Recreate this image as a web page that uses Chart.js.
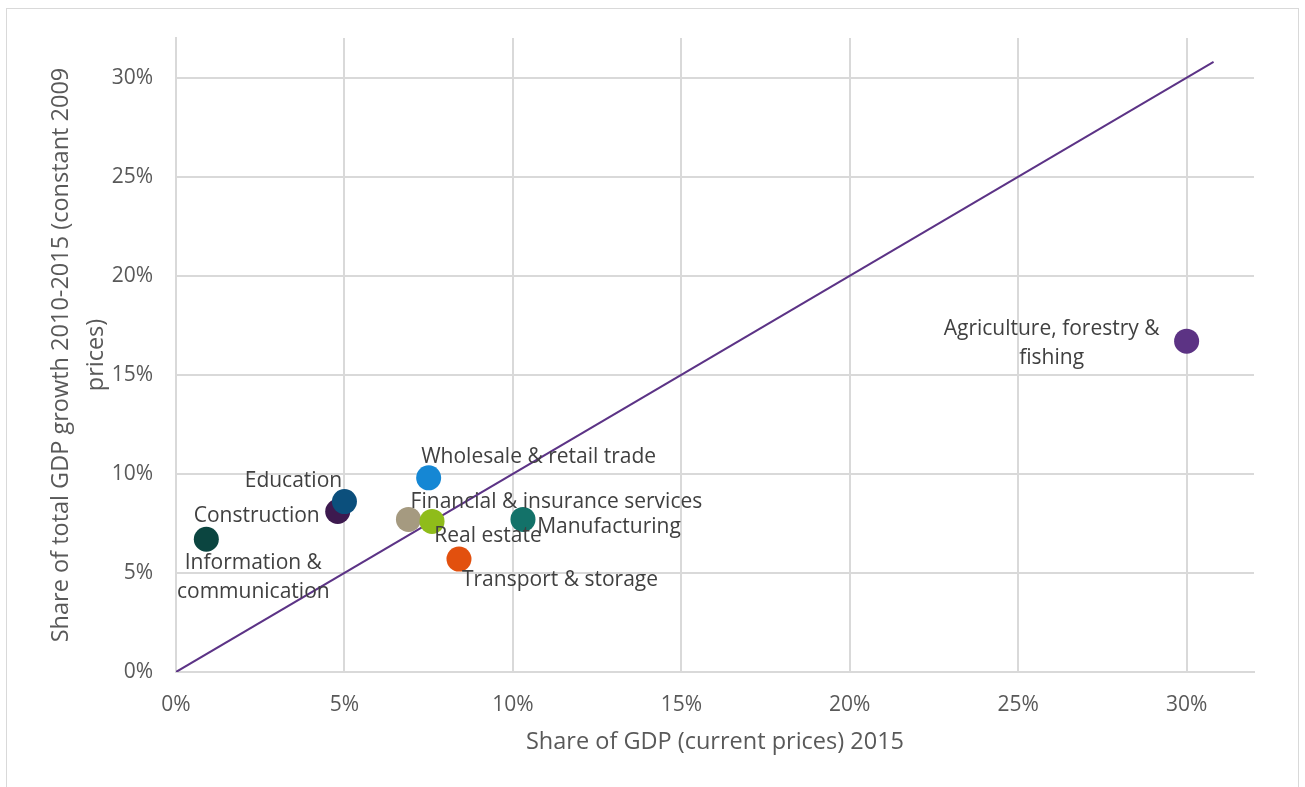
<!DOCTYPE html>
<html>
<head>
<meta charset="utf-8">
<script src="https://cdn.jsdelivr.net/npm/chart.js@4"></script>
<style>
  html, body { margin: 0; padding: 0; background: #fff; }
  #wrap { position: relative; width: 1305px; height: 787px; overflow: hidden; }
  #frame { position: absolute; left: 6px; top: 8px; width: 1291px; height: 800px; border: 1px solid #d9d9d9; }
  canvas { position: absolute; left: 0; top: 0; }
</style>
</head>
<body>
<div id="wrap">
  <div id="frame"></div>
  <canvas id="chart" width="1305" height="787"></canvas>
</div>
<script>
// Datos por sector
const sectors = [
  ['Information &', 'communication'],
  ['Construction'],
  ['Education'],
  ['Wholesale & retail trade'],
  ['Financial & insurance services'],
  ['Real estate'],
  ['Manufacturing'],
  ['Transport & storage'],
  ['Agriculture, forestry &', 'fishing']
];
const gdpShare2015 = [0.009, 0.048, 0.050, 0.075, 0.069, 0.076, 0.103, 0.084, 0.300];
const growthShare = [0.067, 0.081, 0.086, 0.098, 0.077, 0.076, 0.077, 0.057, 0.167];
const parityLine = [0, 0.308];

// Estilos
const sectorColors = ['#0b4540', '#3d1a4f', '#0b4f7c', '#1587d4', '#a59a80', '#8fbc1a', '#137269', '#e2500e', '#5c3384'];
const labelOffsets = [[47, 24], [-81, 4], [-51, -21], [110, -21], [148, -17], [56, 15], [86, 8], [101, 21], [-135, -12]];
const textColor = '#595959';
const gridColor = '#d9d9d9';
const fontFamily = '"Open Sans", sans-serif';

const pct = v => Math.round(v * 100) + '%';

// Etiquetas de los puntos
const pointLabels = {
  id: 'pointLabels',
  afterDatasetsDraw(chart) {
    const ctx = chart.ctx;
    const meta = chart.getDatasetMeta(0);
    ctx.save();
    ctx.font = '21px ' + fontFamily;
    ctx.fillStyle = '#404040';
    ctx.textAlign = 'center';
    ctx.textBaseline = 'middle';
    meta.data.forEach((pt, i) => {
      const [dx, dy] = labelOffsets[i];
      sectors[i].forEach((line, j) => {
        ctx.fillText(line, pt.x + dx, pt.y + dy + j * 28.5);
      });
    });
    ctx.restore();
  }
};

new Chart(document.getElementById('chart'), {
  type: 'scatter',
  data: {
    datasets: [
      {
        label: 'Sectors',
        data: gdpShare2015.map((x, i) => ({ x: x, y: growthShare[i] })),
        pointRadius: 12.5,
        pointHoverRadius: 12.5,
        pointBackgroundColor: sectorColors,
        pointBorderWidth: 0
      },
      {
        label: 'Parity',
        type: 'line',
        data: parityLine.map(v => ({ x: v, y: v })),
        borderColor: '#5c3386',
        borderWidth: 2,
        pointRadius: 0,
        fill: false
      }
    ]
  },
  options: {
    responsive: false,
    animation: false,
    layout: { padding: { left: 0, top: 38, right: 51, bottom: 0 } },
    plugins: {
      legend: { display: false },
      tooltip: { enabled: false }
    },
    scales: {
      x: {
        type: 'linear',
        min: 0,
        max: 0.32,
        afterFit: s => { s.height = 115; },
        ticks: {
          stepSize: 0.05,
          includeBounds: false,
          padding: 20,
          color: textColor,
          font: { family: fontFamily, size: 21 },
          callback: pct
        },
        grid: { color: gridColor, lineWidth: 2, drawTicks: false },
        border: { color: gridColor, width: 2 },
        title: {
          display: true,
          text: 'Share of GDP (current prices) 2015',
          color: textColor,
          font: { family: fontFamily, size: 23.5 },
          padding: { top: 0, bottom: 31 }
        }
      },
      y: {
        type: 'linear',
        min: 0,
        max: 0.32,
        afterFit: s => { s.width = 176; },
        ticks: {
          stepSize: 0.05,
          includeBounds: false,
          padding: 23,
          color: textColor,
          font: { family: fontFamily, size: 21 },
          callback: pct
        },
        grid: { color: gridColor, lineWidth: 2, drawTicks: false },
        border: { color: gridColor, width: 2 },
        title: {
          display: true,
          text: ['Share of total GDP growth 2010-2015 (constant 2009', 'prices)'],
          color: textColor,
          font: { family: fontFamily, size: 23.5, lineHeight: '35px' },
          padding: { top: 44, bottom: 0 }
        }
      }
    }
  },
  plugins: [pointLabels]
});
</script>
</body>
</html>
